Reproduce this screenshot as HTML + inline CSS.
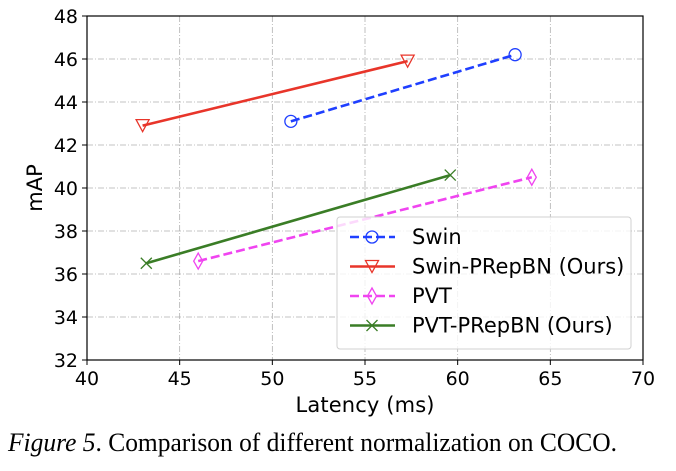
<!DOCTYPE html>
<html><head><meta charset="utf-8"><style>
body{margin:0;background:#fff;width:676px;height:466px;overflow:hidden}
svg text{font-family:"DejaVu Sans","Liberation Sans",sans-serif}
</style></head><body>
<svg width="676" height="466">
<g id="grid"></g><g id="axes"></g><g id="series"></g><g id="legend"></g>
<text x="365" y="412" font-size="21" text-anchor="middle" textLength="139">Latency (ms)</text>
<text transform="translate(42,188) rotate(-90)" font-size="21" text-anchor="middle">mAP</text>
<text x="8" y="451" font-size="26" textLength="609" lengthAdjust="spacingAndGlyphs" style="font-family:'Liberation Serif',serif"><tspan font-style="italic">Figure 5</tspan>. Comparison of different normalization on COCO.</text>
</svg>
<script>
const xTicks=[40,45,50,55,60,65,70];
const yTicks=[32,34,36,38,40,42,44,46,48];
const seriesNames=["Swin","Swin-PRepBN (Ours)","PVT","PVT-PRepBN (Ours)"];
const swinX=[51,63.1], swinY=[43.1,46.2];
const swinPX=[43,57.3], swinPY=[42.9,45.9];
const pvtX=[46,64], pvtY=[36.6,40.5];
const pvtPX=[43.2,59.6], pvtPY=[36.5,40.6];
const L=87,R=643,T=16,B=360;
const sx=v=>L+(v-40)/30*(R-L), sy=v=>B-(v-32)/16*(B-T);
const NS="http://www.w3.org/2000/svg";
function mk(p,t,a){const e=document.createElementNS(NS,t);for(const k in a)e.setAttribute(k,a[k]);p.appendChild(e);return e;}
const g=document.getElementById('grid'),ax=document.getElementById('axes'),se=document.getElementById('series'),lg=document.getElementById('legend');
xTicks.forEach(v=>{const x=sx(v);
 const l=mk(g,'line',{x1:x,x2:x,y1:T,y2:B,stroke:'#b0b0b0','stroke-width':0.8,'stroke-dasharray':'6 2 1 2'});
 
 
 mk(ax,'line',{x1:x,x2:x,y1:B,y2:B+5,stroke:'#000'});
 const t=mk(ax,'text',{x:x,y:B+25,'font-size':19,'text-anchor':'middle'});t.textContent=v;
 
 });
yTicks.forEach(v=>{const y=sy(v);
 const l=mk(g,'line',{x1:L,x2:R,y1:y,y2:y,stroke:'#b0b0b0','stroke-width':0.8,'stroke-dasharray':'6 2 1 2'});
 
 
 mk(ax,'line',{x1:L-5,x2:L,y1:y,y2:y,stroke:'#000'});
 const t=mk(ax,'text',{x:L-9,y:y+7,'font-size':19,'text-anchor':'end'});t.textContent=v;
 
 });
const fr=mk(ax,'rect',{x:L,y:T,width:R-L,height:B-T,fill:'none',stroke:'#000','stroke-width':1.2});


function marker(p,type,x,y,c){
 if(type==='o'){mk(p,'circle',{cx:x,cy:y,r:6,fill:'none',stroke:c,'stroke-width':1.3});}
 else if(type==='v'){mk(p,'path',{d:`M${x-6.5},${y-6} L${x+6.5},${y-6} L${x},${y+6} Z`,fill:'none',stroke:c,'stroke-width':1.3});}
 else if(type==='d'){mk(p,'path',{d:`M${x},${y-8} L${x+4.5},${y} L${x},${y+8} L${x-4.5},${y} Z`,fill:'none',stroke:c,'stroke-width':1.3});}
 else {mk(p,'path',{d:`M${x-5.5},${y-5.5} L${x+5.5},${y+5.5} M${x-5.5},${y+5.5} L${x+5.5},${y-5.5}`,stroke:c,'stroke-width':1.3});}
}
const S=[[swinX,swinY,'#1f3fff','o',true,'swin-series'],[swinPX,swinPY,'#e8352a','v',false,'swin-prepbn-series'],[pvtX,pvtY,'#f044f0','d',true,'pvt-series'],[pvtPX,pvtPY,'#3a7d26','x',false,'pvt-prepbn-series']];
S.forEach(([X,Y,c,m,d,n])=>{const gg=mk(se,'g',{});
 
 
 const a={points:X.map((v,i)=>sx(v)+','+sy(Y[i])).join(' '),fill:'none',stroke:c,'stroke-width':2.6};
 if(d)a['stroke-dasharray']='9 4';
 mk(gg,'polyline',a);
 X.forEach((v,i)=>marker(gg,m,sx(v),sy(Y[i]),c));});
const bx=mk(lg,'rect',{x:337,y:217,width:294,height:132,rx:3,fill:'rgba(255,255,255,0.8)',stroke:'#d0d0d0'});


S.forEach(([X,Y,c,m,d],i)=>{const y=237+i*29.5;const gg=mk(lg,'g',{});
 
 
 const a={x1:350,x2:395,y1:y,y2:y,stroke:c,'stroke-width':2.6};if(d)a['stroke-dasharray']='9 4';
 mk(gg,'line',a);marker(gg,m,372,y,c);
 const t=mk(gg,'text',{x:412,y:y+7,'font-size':21});t.textContent=seriesNames[i];});
</script>
</body></html>
